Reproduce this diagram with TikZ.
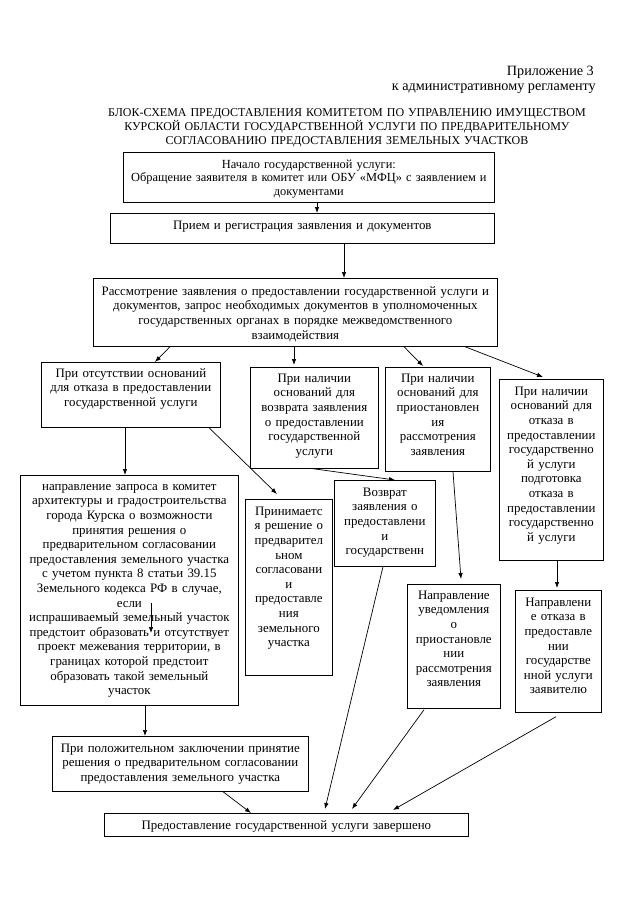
\documentclass[tikz,border=0pt]{standalone}
\usepackage{fontspec}
\setmainfont{Liberation Serif}
\usetikzlibrary{arrows.meta}

\begin{document}
\begin{tikzpicture}[x=1pt, y=-1pt, >={Latex[length=6pt,width=4.5pt]},
    box/.style={draw, line width=0.7pt, align=center, anchor=north west,
      inner xsep=1pt, inner ysep=0pt, font=\fontsize{12.9}{14.6}\selectfont},
    link/.style={->, line width=0.7pt}]
  \useasboundingbox (0,0) rectangle (639,905);

  % heading
  \node[anchor=base east, inner sep=0pt, font=\fontsize{14.2}{16}\selectfont] (app) at (594,75) {Приложение 3};
  \node[anchor=base east, inner sep=0pt, font=\fontsize{14.2}{16}\selectfont] (reglam) at (596,90) {к административному регламенту};
  \node[anchor=base, inner sep=0pt, text width=600pt, align=center, font=\fontsize{12.0}{14}\selectfont] (title) at (347,116)
    {БЛОК-СХЕМА ПРЕДОСТАВЛЕНИЯ КОМИТЕТОМ ПО УПРАВЛЕНИЮ ИМУЩЕСТВОМ\\
     КУРСКОЙ ОБЛАСТИ ГОСУДАРСТВЕННОЙ УСЛУГИ ПО ПРЕДВАРИТЕЛЬНОМУ\\
     СОГЛАСОВАНИЮ ПРЕДОСТАВЛЕНИЯ ЗЕМЕЛЬНЫХ УЧАСТКОВ};

  % main chain
  \node[box, text width=369pt, text height=16pt, text depth=34pt, font=\fontsize{12.4}{13.6}\selectfont] (start) at (123,152)
    {Начало государственной услуги:\\Обращение заявителя в комитет или ОБУ «МФЦ» с заявлением и\\документами};
  \node[box, text width=382pt, text height=16pt, text depth=14pt] (reg) at (110,213)
    {Прием и регистрация заявления и документов};
  \node[box, text width=402pt, text height=17pt, text depth=51pt] (review) at (93,278)
    {Рассмотрение заявления о предоставлении государственной услуги и\\документов, запрос необходимых документов в уполномоченных\\государственных органах в порядке межведомственного\\взаимодействия};

  % grounds
  \node[box, text width=177pt, text height=15pt, text depth=50pt] (noref) at (41,362)
    {При отсутствии оснований\\для отказа в предоставлении\\государственной услуги};
  \node[box, text width=126pt, text height=15pt, text depth=86pt] (retgr) at (250,367)
    {При наличии\\оснований для\\возврата заявления\\о предоставлении\\государственной\\услуги};
  \node[box, text width=103pt, text height=15pt, text depth=89pt] (suspgr) at (385,367)
    {При наличии\\оснований для\\приостановлен\\ия\\рассмотрения\\заявления};
  \node[box, text width=102pt, text height=16pt, text depth=165pt] (refgr) at (499,379)
    {При наличии\\оснований для\\отказа в\\предоставлении\\государственно\\й услуги\\подготовка\\отказа в\\предоставлении\\государственно\\й услуги};

  % results
  \node[box, text width=216pt, text height=15pt, text depth=215pt] (request) at (20,475)
    {направление запроса в комитет\\архитектуры и градостроительства\\города Курска о возможности\\принятия решения о\\предварительном согласовании\\предоставления земельного участка\\с учетом пункта 8 статьи 39.15\\Земельного кодекса РФ в случае,\\если\\испрашиваемый земельный участок\\предстоит образовать и отсутствует\\проект межевания территории, в\\границах которой предстоит\\образовать такой земельный\\участок};
  \node[box, text width=85pt, text height=16pt, text depth=160pt] (accept) at (245,499)
    {Принимаетс\\я решение о\\предварител\\ьном\\согласовани\\и\\предоставле\\ния\\земельного\\участка};
  \node[box, text width=99pt, text height=16pt, text depth=70pt] (retdoc) at (334,480)
    {Возврат\\заявления о\\предоставлени\\и\\государственн};
  \node[box, text width=91pt, text height=15pt, text depth=109pt] (suspnote) at (407,584)
    {Направление\\уведомления\\о\\приостановле\\нии\\рассмотрения\\заявления};
  \node[box, text width=84pt, text height=16pt, text depth=106pt] (refnote) at (515,590)
    {Направлени\\е отказа в\\предоставле\\нии\\государстве\\нной услуги\\заявителю};
  \node[box, text width=254pt, text height=16pt, text depth=39pt] (approve) at (52,736)
    {При положительном заключении принятие\\решения о предварительном согласовании\\предоставления земельного участка};
  \node[box, text width=362pt, text height=16pt, text depth=7pt] (done) at (104,813)
    {Предоставление государственной услуги завершено};

  \coordinate (strayA) at (151,603);
  \coordinate (strayB) at (151,633);

  % connectors
  \draw[link] ([xshift=194pt]start.south west) -- ([xshift=207pt]reg.north west);
  \draw[link] ([xshift=234pt]reg.south west) -- ([xshift=251pt]review.north west);
  \draw[link] ([xshift=77pt]review.south west) -- ([xshift=114pt]noref.north west);
  \draw[link] ([xshift=201pt]review.south west) -- ([xshift=44pt,yshift=2pt]retgr.north west);
  \draw[link] ([xshift=311pt]review.south west) -- ([xshift=38pt,yshift=1pt]suspgr.north west);
  \draw[link] ([xshift=372pt]review.south west) -- ([xshift=44pt,yshift=2pt]refgr.north west);
  \draw[link] ([xshift=84pt]noref.south west) -- ([xshift=105pt]request.north west);
  \draw[link] ([xshift=168pt]noref.south west) -- ([xshift=32pt,yshift=5pt]accept.north west);
  \draw[link] ([xshift=63pt]retgr.south west) -- ([xshift=61pt]retdoc.north west);
  \draw[link] ([xshift=68pt]suspgr.south west) -- ([xshift=54pt,yshift=5pt]suspnote.north west);
  \draw[link] ([xshift=58pt]refgr.south west) -- ([xshift=42pt,yshift=2pt]refnote.north west);
  \draw[link] (strayA) -- (strayB);
  \draw[link] ([xshift=125pt]request.south west) -- ([xshift=93pt]approve.north west);
  \draw[link] ([xshift=171pt]approve.south west) -- ([xshift=147pt]done.north west);
  \draw[link] ([xshift=49pt]retdoc.south west) -- ([xshift=221pt,yshift=4pt]done.north west);
  \draw[link] ([xshift=17pt,yshift=-1pt]suspnote.south west) -- ([xshift=248pt,yshift=4pt]done.north west);
  \draw[link] ([xshift=41pt,yshift=-4pt]refnote.south west) -- ([xshift=289pt,yshift=3pt]done.north west);
\end{tikzpicture}
\end{document}
